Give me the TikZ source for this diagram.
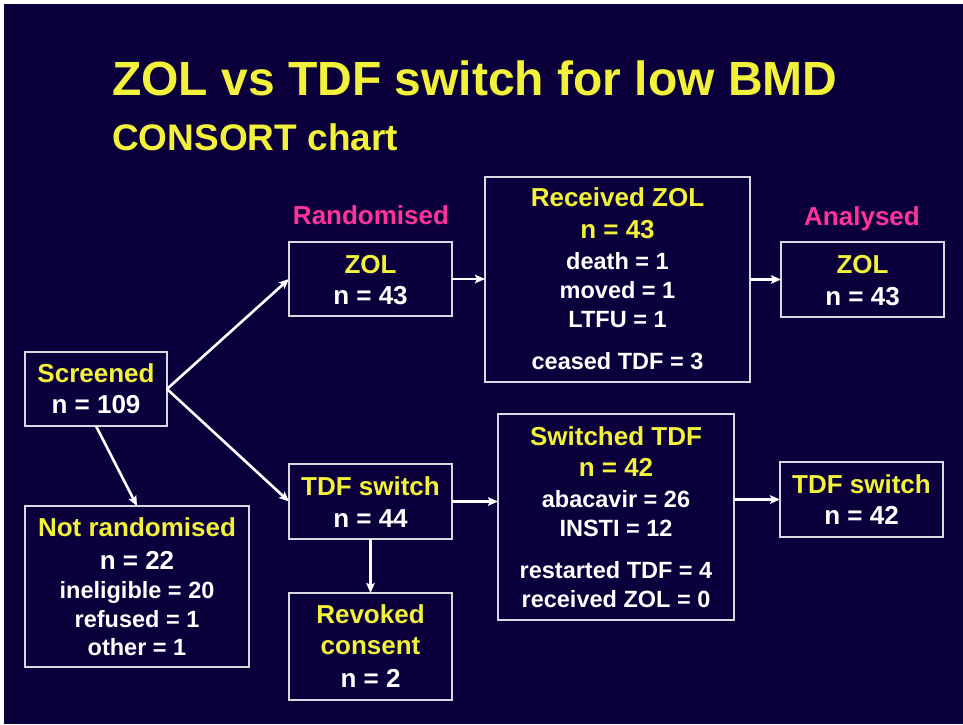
\documentclass[tikz,border=0pt]{standalone}
\usepackage{fontspec}
\setmainfont{Liberation Sans}
\usetikzlibrary{arrows.meta}
\definecolor{bgnavy}{HTML}{0C003C}
\definecolor{ttlyellow}{HTML}{F2F23A}
\definecolor{hdpink}{HTML}{FF3399}
\definecolor{boxline}{HTML}{D8D8E0}
\tikzset{
  box/.style={draw=boxline, line width=1.3pt, rectangle, inner sep=0pt, outer sep=0pt},
  hd/.style={anchor=base, inner sep=0pt, text=ttlyellow, font=\fontsize{26}{30}\selectfont\bfseries},
  num/.style={anchor=base, inner sep=0pt, text=white, font=\fontsize{26}{30}\selectfont\bfseries},
  sm/.style={anchor=base, inner sep=0pt, text=white, font=\fontsize{23.5}{28}\selectfont\bfseries},
  pinkhd/.style={anchor=base, inner sep=0pt, text=hdpink, font=\fontsize{26}{30}\selectfont\bfseries},
  arr/.style={draw=white, line width=2.6pt, -{Stealth[length=10pt,width=8.5pt,inset=2pt]}},
}
\begin{document}
\begin{tikzpicture}[x=1pt,y=-1pt]
\useasboundingbox (0,0) rectangle (963,724);
\fill[white] (0,0) rectangle (963,724);
\fill[bgnavy] (4,4) rectangle (963,724);

% titles
\node[anchor=base west, inner sep=0pt, text=ttlyellow, font=\fontsize{48}{54}\selectfont\bfseries] (title) at (112,95) {ZOL vs TDF switch for low BMD};
\node[anchor=base west, inner sep=0pt, text=ttlyellow, font=\fontsize{37}{42}\selectfont\bfseries] (subtitle) at (112,150) {CONSORT chart};
\node[pinkhd] (rand) at (371,224) {Randomised};
\node[pinkhd] (anal) at (862,225) {Analysed};

% boxes
\node[box, minimum width=142pt, minimum height=74pt] (scr) at (96,389) {};
\node[box, minimum width=224pt, minimum height=161pt] (notr) at (137,586.5) {};
\node[box, minimum width=163pt, minimum height=74pt] (zol) at (370.5,279) {};
\node[box, minimum width=265pt, minimum height=205pt] (recv) at (617.5,279.5) {};
\node[box, minimum width=163pt, minimum height=75pt] (zolA) at (862.5,279.5) {};
\node[box, minimum width=163pt, minimum height=75pt] (tdf) at (370.5,501.5) {};
\node[box, minimum width=163pt, minimum height=107pt] (rev) at (370.5,646.5) {};
\node[box, minimum width=236pt, minimum height=206pt] (sw) at (616,517) {};
\node[box, minimum width=163pt, minimum height=75pt] (tdfA) at (861.5,499.5) {};

% box texts
\node[hd] (scrA) at (96,382) {Screened};
\node[num] (scrB) at (96,413) {n = 109};

\node[hd] (notrA) at (137,536) {Not randomised};
\node[num] (notrB) at (137,569) {n = 22};
\node[sm] (notrC) at (137,598) {ineligible = 20};
\node[sm] (notrD) at (137,627) {refused = 1};
\node[sm] (notrE) at (137,655) {other = 1};

\node[hd] (zolT) at (370.5,273) {ZOL};
\node[num] (zolN) at (370.5,304) {n = 43};

\node[hd] (recvA) at (617.5,206) {Received ZOL};
\node[hd] (recvB) at (617.5,238) {n = 43};
\node[sm] (recvC) at (617.5,269) {death = 1};
\node[sm] (recvD) at (617.5,298) {moved = 1};
\node[sm] (recvE) at (617.5,327) {LTFU = 1};
\node[sm] (recvF) at (617.5,369) {ceased TDF = 3};

\node[hd] (zolAT) at (862.5,273) {ZOL};
\node[num] (zolAN) at (862.5,305) {n = 43};

\node[hd] (tdfT) at (370.5,495) {TDF switch};
\node[num] (tdfN) at (370.5,527) {n = 44};

\node[hd] (revA) at (370.5,623) {Revoked};
\node[hd] (revB) at (370.5,654) {consent};
\node[num] (revC) at (370.5,687) {n = 2};

\node[hd] (swA) at (616,445) {Switched TDF};
\node[hd] (swB) at (616,476) {n = 42};
\node[sm] (swC) at (616,507) {abacavir = 26};
\node[sm] (swD) at (616,536) {INSTI = 12};
\node[sm] (swE) at (616,578) {restarted TDF = 4};
\node[sm] (swF) at (616,607) {received ZOL = 0};

\node[hd] (tdfAT) at (861.5,493) {TDF switch};
\node[num] (tdfAN) at (861.5,524) {n = 42};

% connectors
\draw[arr] (scr.east) -- (zol.west);
\draw[arr] (scr.east) -- (tdf.west);
\draw[arr] (scr.south) -- (notr.north);
\draw[arr] (zol.east) -- (zol.east -| recv.west);
\draw[arr] (recv.east) -- (zolA.west);
\draw[arr] (tdf.east) -- (tdf.east -| sw.west);
\draw[arr] (sw.east |- tdfA.west) -- (tdfA.west);
\draw[arr] (tdf.south) -- (rev.north);
\end{tikzpicture}
\end{document}
